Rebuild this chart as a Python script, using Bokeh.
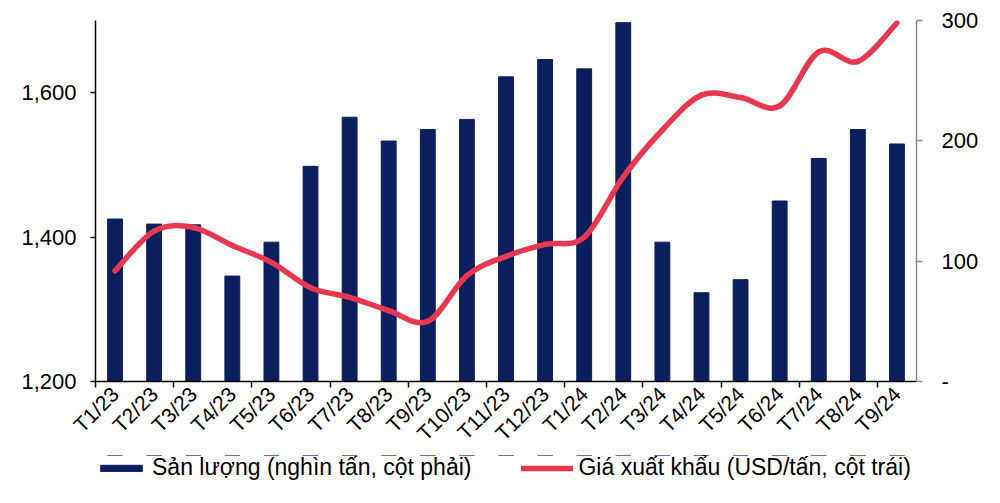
import math
from bokeh.plotting import figure
from bokeh.layouts import column
from bokeh.models import (Range1d, LinearAxis, FixedTicker, NumeralTickFormatter,
                          Legend, LegendItem)
from bokeh.embed import file_html
from bokeh.resources import INLINE

categories = ["T1/23", "T2/23", "T3/23", "T4/23", "T5/23", "T6/23", "T7/23",
              "T8/23", "T9/23", "T10/23", "T11/23", "T12/23", "T1/24", "T2/24",
              "T3/24", "T4/24", "T5/24", "T6/24", "T7/24", "T8/24", "T9/24"]
san_luong = [1425, 1418, 1417, 1346, 1393, 1498, 1566, 1533, 1549, 1563, 1622,
             1646, 1633, 1697, 1393, 1323, 1341, 1450, 1509, 1549, 1529]
gia_xk = [92, 125, 128, 113, 99, 78, 70, 59, 50, 88, 104,
          114, 120, 170, 209, 238, 236, 229, 274, 266, 298]
left_ticks = [1200, 1400, 1600]
right_ticks = [0, 100, 200, 300]
legend_labels = ["Sản lượng (nghìn tấn, cột phải)", "Giá xuất khẩu (USD/tấn, cột trái)"]

BAR = "#0B1F5E"
RED = "#E8384F"
FONT = "Liberation Sans"
FS = "22px"

p = figure(width=992, height=455, output_backend="svg", toolbar_location=None,
           x_range=Range1d(-0.5, 20.5), y_range=Range1d(1200, 1700),
           min_border_left=95, min_border_right=76, min_border_top=20,
           min_border_bottom=72, x_axis_type=None, y_axis_type=None)
p.outline_line_color = None
p.xgrid.visible = False
p.ygrid.visible = False
p.extra_y_ranges = {"right": Range1d(0, 300)}

xs = list(range(len(categories)))
bars = p.vbar(x=xs, top=san_luong, bottom=1200, width=0.38, color=BAR)

# smooth line (Excel-like) via bezier segments built from the data points
n = len(gia_xk)
x0, y0, x1, y1, cx0, cy0, cx1, cy1 = [], [], [], [], [], [], [], []
for i in range(n - 1):
    xa, ya = xs[i], gia_xk[i]
    xb, yb = xs[i + 1], gia_xk[i + 1]
    xp, yp = (xs[i - 1], gia_xk[i - 1]) if i > 0 else (xa, ya)
    xn, yn = (xs[i + 2], gia_xk[i + 2]) if i + 2 < n else (xb, yb)
    x0.append(xa); y0.append(ya); x1.append(xb); y1.append(yb)
    cx0.append(xa + (xb - xp) / 6); cy0.append(ya + (yb - yp) / 6)
    cx1.append(xb - (xn - xa) / 6); cy1.append(yb - (yn - ya) / 6)
line = p.bezier(x0=x0, y0=y0, x1=x1, y1=y1, cx0=cx0, cy0=cy0, cx1=cx1, cy1=cy1,
                line_color=RED, line_width=5.5, line_cap="round",
                y_range_name="right")

# left axis
la = LinearAxis(ticker=FixedTicker(ticks=left_ticks),
                formatter=NumeralTickFormatter(format="0,0"))
la.axis_line_color = "black"
la.axis_line_width = 1.5
la.major_tick_line_color = "black"
la.major_tick_line_width = 1.5
la.major_tick_in = 0
la.major_tick_out = 5
la.minor_tick_line_color = None
la.major_label_standoff = 14
la.major_label_text_font = FONT
la.major_label_text_font_size = FS
la.major_label_text_color = "black"
p.add_layout(la, "left")

# right axis
ra = LinearAxis(y_range_name="right", ticker=FixedTicker(ticks=right_ticks))
ra.major_label_overrides = {0: "-"}
ra.axis_line_color = "#8C8C8C"
ra.axis_line_width = 1.5
ra.major_tick_line_color = "#8C8C8C"
ra.major_tick_line_width = 1.5
ra.major_tick_in = 0
ra.major_tick_out = 6
ra.minor_tick_line_color = None
ra.major_label_standoff = 19
ra.major_label_text_font = FONT
ra.major_label_text_font_size = FS
ra.major_label_text_color = "black"
p.add_layout(ra, "right")

# bottom axis
minor = [i + 0.5 for i in range(-1, len(categories), 2)]
ba = LinearAxis(ticker=FixedTicker(ticks=xs, minor_ticks=minor))
ba.major_label_overrides = {i: c for i, c in enumerate(categories)}
ba.axis_line_color = "black"
ba.axis_line_width = 1.5
ba.major_tick_line_color = None
ba.minor_tick_line_color = "black"
ba.minor_tick_line_width = 1.5
ba.minor_tick_in = 0
ba.minor_tick_out = 6
ba.major_label_orientation = math.pi / 4
ba.major_label_standoff = 3
ba.major_label_text_font = FONT
ba.major_label_text_font_size = "21px"
ba.major_label_text_color = "black"
p.add_layout(ba, "below")

# legend strip below the chart (same series, drawn outside its visible range)
lf = figure(width=992, height=40, output_backend="svg", toolbar_location=None,
            x_range=Range1d(-0.5, 20.5), y_range=Range1d(0, 1),
            min_border_left=0, min_border_right=0, min_border_top=0,
            min_border_bottom=0, x_axis_type=None, y_axis_type=None)
lf.outline_line_color = None
lf.xgrid.visible = False
lf.ygrid.visible = False
lb = lf.vbar(x=xs, top=san_luong, bottom=1200, width=0.38, color=BAR)
ll = lf.line(x=xs, y=gia_xk, line_color=RED, line_width=5.5, line_cap="round")

legend = Legend(items=[LegendItem(label=legend_labels[0], renderers=[lb]),
                       LegendItem(label=legend_labels[1], renderers=[ll])],
                orientation="horizontal", location=(0, 14))
legend.border_line_color = None
legend.background_fill_alpha = 0
legend.padding = 0
legend.margin = 0
legend.spacing = 50
legend.glyph_width = 52
legend.glyph_height = 8
legend.label_standoff = 5
legend.label_text_font = FONT
legend.label_text_font_size = "23px"
legend.label_text_color = "black"
lf.add_layout(legend, "center")

open("out.html", "w").write(file_html(column(p, lf), INLINE))
